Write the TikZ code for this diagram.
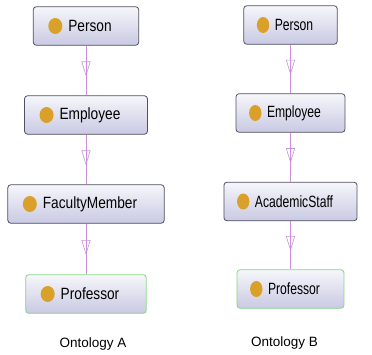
\documentclass[tikz,border=0pt]{standalone}
\usepackage{fontspec}
\setmainfont{Liberation Sans}
\usepackage{xcolor}
\usepackage{graphicx}
\usetikzlibrary{positioning,arrows.meta,decorations.markings}

\definecolor{boxtop}{HTML}{F6F6FB}
\definecolor{boxbot}{HTML}{C9C9E3}
\definecolor{boxline}{HTML}{505062}
\definecolor{leafline}{HTML}{86D486}
\definecolor{dotgold}{HTML}{D9A02A}
\definecolor{isaline}{HTML}{C98FDA}

% condensed class names
\newcommand{\cname}[2][0.84]{\scalebox{#1}[1]{#2}}

\begin{document}
\begin{tikzpicture}[x=1pt, y=1pt, node distance=89pt,
    classbox/.style={rectangle, rounded corners=3pt, draw=boxline, line width=0.8pt,
      top color=boxtop, bottom color=boxbot, minimum height=38.5pt, inner xsep=0pt,
      font=\fontsize{16.3}{18}\selectfont},
    cls/.style={classbox,
      execute at begin node=\hspace*{35pt}, execute at end node=\hspace*{27pt},
      path picture={\fill[dotgold] ([xshift=22pt]path picture bounding box.west) ellipse (7pt and 8pt);}},
    clsb/.style={classbox,
      execute at begin node=\hspace*{31pt}, execute at end node=\hspace*{24pt},
      path picture={\fill[dotgold] ([xshift=19.3pt]path picture bounding box.west) ellipse (6.2pt and 8pt);}},
    leaf/.style={draw=leafline},
    isa/.style={draw=isaline, line width=0.6pt, postaction={decorate},
      decoration={markings, mark=at position 0.62 with {\arrow[isaline, line width=0.6pt]{Triangle[open, length=15pt, width=9pt]}}}},
    caption/.style={font=\fontsize{13.5}{15}\selectfont}]
    \useasboundingbox (0,0) rectangle (372,-354);

    % Ontology A
    \node [cls] (personA) at (86,-26) {\cname{Person}};
    \node [cls, below of=personA] (employeeA) {\cname{Employee}};
    \node [cls, below of=employeeA] (facultyA) {\cname{FacultyMember}};
    \node [cls, leaf, below of=facultyA, yshift=-1pt] (profA) {\cname{Professor}};

    \draw [isa] (personA) -- (employeeA);
    \draw [isa] (employeeA) -- (facultyA);
    \draw [isa] (facultyA) -- (profA);

    % Ontology B
    \node [clsb] (personB) at (290.5,-25) {\cname[0.745]{Person}};
    \node [clsb, below of=personB, yshift=1pt] (employeeB) {\cname[0.745]{Employee}};
    \node [clsb, below of=employeeB, yshift=0.5pt] (staffB) {\cname[0.745]{AcademicStaff}};
    \node [clsb, leaf, below of=staffB, yshift=1.5pt] (profB) {\cname[0.745]{Professor}};

    \draw [isa] (personB) -- (employeeB);
    \draw [isa] (employeeB) -- (staffB);
    \draw [isa] (staffB) -- (profB);

    \node [caption] (labA) at (93,-344) {Ontology A};
    \node [caption] (labB) at (284.5,-343) {Ontology B};
\end{tikzpicture}
\end{document}
